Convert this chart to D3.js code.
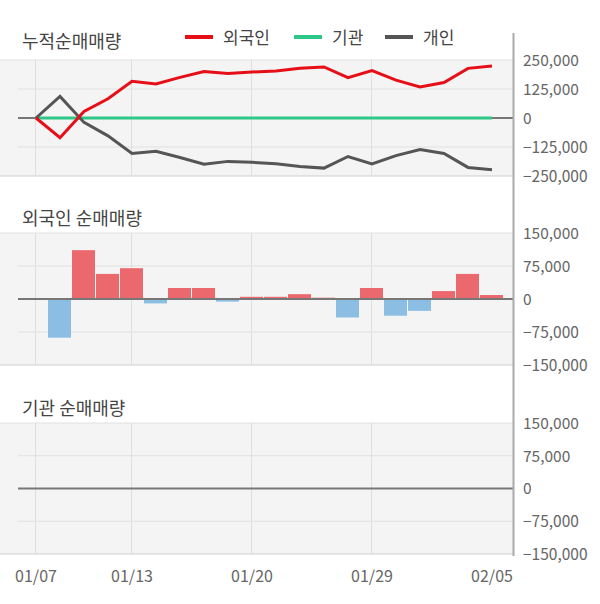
<!DOCTYPE html>
<html><head><meta charset="utf-8">
<script src="https://cdn.jsdelivr.net/npm/d3@7/dist/d3.min.js"></script>
<style>body{margin:0;background:#fff}svg{display:block}text{font-family:"Noto Sans CJK KR","Noto Sans",sans-serif}</style>
</head><body><svg id="c" width="600" height="604"></svg>
<script>
const dates = ["01/07","01/08","01/09","01/10","01/13","01/14","01/15","01/16","01/17","01/20","01/21","01/22","01/23","01/28","01/29","01/30","01/31","02/03","02/04","02/05"];
const tickDates = ["01/07","01/13","01/20","01/29","02/05"];
const gridDates = ["01/07","01/13","01/20","01/29"];
const cumForeign = [0,-85000,28000,83000,158000,147000,175000,200000,192000,198000,203000,214000,220000,174000,204000,163000,134000,153000,214000,224000];
const cumInst = [0,0,0,0,0,0,0,0,0,0,0,0,0,0,0,0,0,0,0,0];
const cumIndiv = [0,93000,-19000,-77000,-153000,-143000,-170000,-199000,-187000,-191000,-197000,-209000,-216000,-166000,-198000,-162000,-136000,-153000,-213000,-223000];
const foreignNet = [0,-88000,111000,57000,70000,-10000,25000,25000,-6000,5000,5000,11000,3000,-42000,25000,-38000,-27000,18000,57000,9000];
const instNet = [0,0,0,0,0,0,0,0,0,0,0,0,0,0,0,0,0,0,0,0];
const cumTicks = [250000,125000,0,-125000,-250000];
const netTicks = [150000,75000,0,-75000,-150000];
const legendNames = ["외국인","기관","개인"];
const titles = ["누적순매매량","외국인 순매매량","기관 순매매량"];

const svg = d3.select("#c");
const right = 513;
const x = d3.scaleBand().domain(dates).range([24, 504]).paddingInner(0).paddingOuter(0);
const cx = d => x(d) + x.bandwidth()/2;
const fmt = d3.format(",");

const panels = [
  {top:60, bottom:176, ticks:cumTicks, title:titles[0], titleY:48},
  {top:233, bottom:365, ticks:netTicks, title:titles[1], titleY:225},
  {top:423, bottom:554, ticks:netTicks, title:titles[2], titleY:415}
];
panels.forEach(p => {
  p.y = d3.scaleLinear().domain([p.ticks[p.ticks.length-1], p.ticks[0]]).range([p.bottom, p.top]);
  const g = svg.append("g");
  g.append("rect").attr("x",0).attr("y",p.top).attr("width",right).attr("height",p.bottom-p.top).attr("fill","#f4f4f4");
  p.ticks.forEach((t,i) => {
    if (t === 0) return;
    const edge = (i===0 || i===p.ticks.length-1);
    g.append("line").attr("x1", edge?0:18).attr("x2", right)
      .attr("y1", p.y(t)).attr("y2", p.y(t))
      .attr("stroke", i===p.ticks.length-1 ? "#cfcfcf" : "#e0e0e0").attr("stroke-width",1);
  });
  gridDates.forEach(d => {
    g.append("line").attr("x1", cx(d)-0.5).attr("x2", cx(d)-0.5).attr("y1", p.top).attr("y2", p.bottom)
      .attr("stroke","#dedede").attr("stroke-width",1);
  });
  const axis = d3.axisRight(p.y).tickValues(p.ticks).tickFormat(fmt).tickSize(0).tickPadding(10);
  const ag = svg.append("g").attr("transform",`translate(${right},0)`).call(axis);
  ag.select(".domain").remove();
  ag.selectAll("text").attr("fill","#666").style("font-size","15.5px").attr("dy","0.35em");
  svg.append("text").attr("x",22).attr("y",p.titleY).text(p.title).attr("fill","#444").style("font-size","18px");
});

// Panel 1 lines
const p1 = panels[0];
svg.append("line").attr("x1",18).attr("x2",right).attr("y1",p1.y(0)).attr("y2",p1.y(0)).attr("stroke","#777").attr("stroke-width",2);
const line = d3.line().x((d,i)=>cx(dates[i])).y(d=>p1.y(d));
svg.append("path").datum(cumInst).attr("d",line).attr("fill","none").attr("stroke","#2ec787").attr("stroke-width",3);
svg.append("path").datum(cumIndiv).attr("d",line).attr("fill","none").attr("stroke","#555").attr("stroke-width",3);
svg.append("path").datum(cumForeign).attr("d",line).attr("fill","none").attr("stroke","#e60f18").attr("stroke-width",3);

// Panel 2 bars
const p2 = panels[1];
svg.append("g").selectAll("rect").data(foreignNet).join("rect")
  .attr("x",(d,i)=>x(dates[i])).attr("width",x.bandwidth()-1)
  .attr("y",d=>d>=0?p2.y(d):p2.y(0)).attr("height",d=>Math.abs(p2.y(d)-p2.y(0)))
  .attr("fill",d=>d>=0?"#eb686d":"#8cbde3");
svg.append("line").attr("x1",18).attr("x2",right).attr("y1",p2.y(0)).attr("y2",p2.y(0)).attr("stroke","#777").attr("stroke-width",2);

// Panel 3 bars
const p3 = panels[2];
svg.append("g").selectAll("rect").data(instNet).join("rect")
  .attr("x",(d,i)=>x(dates[i])).attr("width",x.bandwidth()-1)
  .attr("y",d=>d>=0?p3.y(d):p3.y(0)).attr("height",d=>Math.abs(p3.y(d)-p3.y(0)))
  .attr("fill",d=>d>=0?"#eb686d":"#8cbde3");
svg.append("line").attr("x1",18).attr("x2",right).attr("y1",p3.y(0)).attr("y2",p3.y(0)).attr("stroke","#777").attr("stroke-width",2);

// right axis line
svg.append("line").attr("x1",right+0.5).attr("x2",right+0.5).attr("y1",33).attr("y2",556).attr("stroke","#aaa").attr("stroke-width",2);

// x axis labels
const xa = d3.axisBottom(x).tickValues(tickDates).tickSize(0).tickPadding(0);
const xg = svg.append("g").attr("transform","translate(0,571)").call(xa);
xg.select(".domain").remove();
xg.selectAll("text").attr("fill","#666").style("font-size","16px").attr("dy","0.71em");

// legend
const legColors = ["#e60f18","#2ec787","#555"];
const legX = [185, 294, 385];
legendNames.forEach((n,i) => {
  svg.append("line").attr("x1",legX[i]).attr("x2",legX[i]+28).attr("y1",37).attr("y2",37).attr("stroke",legColors[i]).attr("stroke-width",4);
  svg.append("text").attr("x",legX[i]+38).attr("y",44).text(n).attr("fill","#444").style("font-size","17px");
});
</script></body></html>
